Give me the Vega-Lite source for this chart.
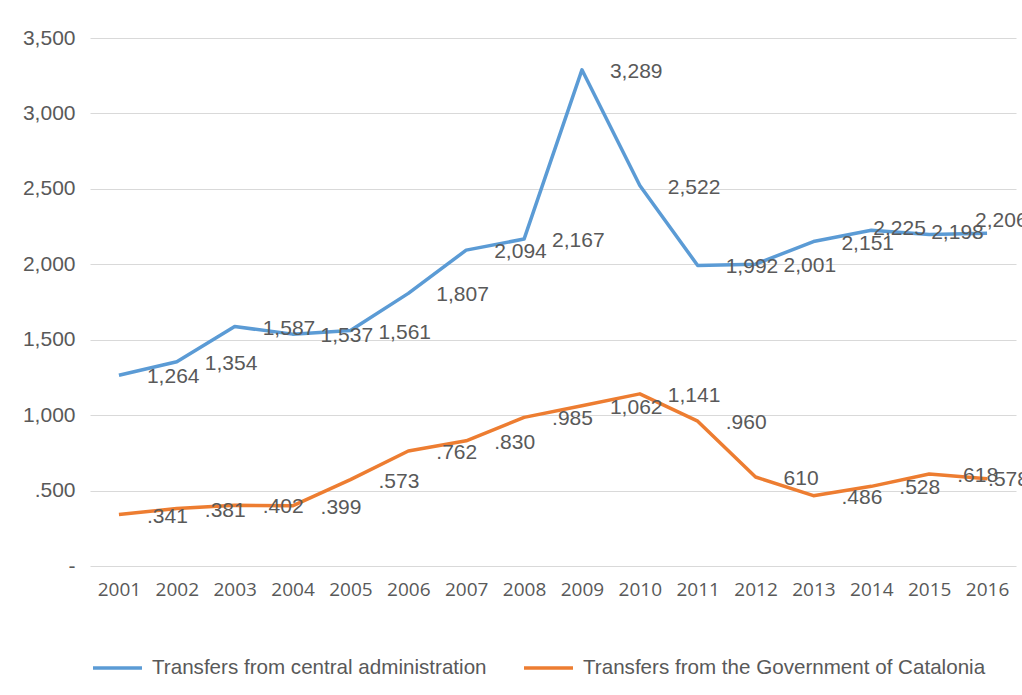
{
  "$schema": "https://vega.github.io/schema/vega-lite/v6.json",
  "width": 926,
  "height": 528,
  "autosize": {"type": "none"},
  "padding": {"left": 90, "top": 38, "right": 6, "bottom": 129},
  "background": "white",
  "config": {"view": {"stroke": null}, "font": "Liberation Sans"},
  "data": {
    "values": [
      {"year": "2001", "series": "Transfers from central administration", "value": 1264, "label": "1,264"},
      {"year": "2002", "series": "Transfers from central administration", "value": 1354, "label": "1,354"},
      {"year": "2003", "series": "Transfers from central administration", "value": 1587, "label": "1,587"},
      {"year": "2004", "series": "Transfers from central administration", "value": 1537, "label": "1,537"},
      {"year": "2005", "series": "Transfers from central administration", "value": 1561, "label": "1,561"},
      {"year": "2006", "series": "Transfers from central administration", "value": 1807, "label": "1,807"},
      {"year": "2007", "series": "Transfers from central administration", "value": 2094, "label": "2,094"},
      {"year": "2008", "series": "Transfers from central administration", "value": 2167, "label": "2,167"},
      {"year": "2009", "series": "Transfers from central administration", "value": 3289, "label": "3,289"},
      {"year": "2010", "series": "Transfers from central administration", "value": 2522, "label": "2,522"},
      {"year": "2011", "series": "Transfers from central administration", "value": 1992, "label": "1,992"},
      {"year": "2012", "series": "Transfers from central administration", "value": 2001, "label": "2,001"},
      {"year": "2013", "series": "Transfers from central administration", "value": 2151, "label": "2,151"},
      {"year": "2014", "series": "Transfers from central administration", "value": 2225, "label": "2,225"},
      {"year": "2015", "series": "Transfers from central administration", "value": 2198, "label": "2,198"},
      {"year": "2016", "series": "Transfers from central administration", "value": 2206, "label": "2,206"},
      {"year": "2001", "series": "Transfers from the Government of Catalonia", "value": 341, "label": ".341"},
      {"year": "2002", "series": "Transfers from the Government of Catalonia", "value": 381, "label": ".381"},
      {"year": "2003", "series": "Transfers from the Government of Catalonia", "value": 402, "label": ".402"},
      {"year": "2004", "series": "Transfers from the Government of Catalonia", "value": 399, "label": ".399"},
      {"year": "2005", "series": "Transfers from the Government of Catalonia", "value": 573, "label": ".573"},
      {"year": "2006", "series": "Transfers from the Government of Catalonia", "value": 762, "label": ".762"},
      {"year": "2007", "series": "Transfers from the Government of Catalonia", "value": 830, "label": ".830"},
      {"year": "2008", "series": "Transfers from the Government of Catalonia", "value": 985, "label": ".985"},
      {"year": "2009", "series": "Transfers from the Government of Catalonia", "value": 1062, "label": "1,062"},
      {"year": "2010", "series": "Transfers from the Government of Catalonia", "value": 1141, "label": "1,141"},
      {"year": "2011", "series": "Transfers from the Government of Catalonia", "value": 960, "label": ".960"},
      {"year": "2012", "series": "Transfers from the Government of Catalonia", "value": 590, "label": "610"},
      {"year": "2013", "series": "Transfers from the Government of Catalonia", "value": 466, "label": ".486"},
      {"year": "2014", "series": "Transfers from the Government of Catalonia", "value": 528, "label": ".528"},
      {"year": "2015", "series": "Transfers from the Government of Catalonia", "value": 610, "label": ".618"},
      {"year": "2016", "series": "Transfers from the Government of Catalonia", "value": 578, "label": ".578"}
    ]
  },
  "encoding": {
    "x": {
      "field": "year",
      "type": "ordinal",
      "axis": {
        "title": null,
        "domain": false,
        "ticks": false,
        "labelAngle": 0,
        "labelFont": "Open Sans",
        "labelFontSize": 19,
        "labelColor": "#595959",
        "labelPadding": 14
      }
    },
    "y": {
      "field": "value",
      "type": "quantitative",
      "scale": {"domain": [0, 3500], "nice": false},
      "axis": {
        "title": null,
        "domain": false,
        "ticks": false,
        "values": [0, 500, 1000, 1500, 2000, 2500, 3000, 3500],
        "labelExpr": "datum.value == 0 ? '-' : (datum.value < 1000 ? '.' + format(datum.value, 'd') : format(datum.value, ','))",
        "labelFontSize": 21,
        "labelColor": "#595959",
        "labelPadding": 15,
        "gridColor": "#d9d9d9",
        "gridWidth": 1
      }
    }
  },
  "layer": [
    {
      "mark": {"type": "line", "strokeWidth": 3.5, "strokeJoin": "round"},
      "encoding": {
        "color": {
          "field": "series",
          "type": "nominal",
          "scale": {
            "domain": ["Transfers from central administration", "Transfers from the Government of Catalonia"],
            "range": ["#5B9BD5", "#ED7D31"]
          },
          "legend": {
            "title": null,
            "orient": "none",
            "legendX": 1,
            "legendY": 603,
            "direction": "horizontal",
            "symbolType": "stroke",
            "symbolSize": 2400,
            "symbolStrokeWidth": 3.5,
            "labelFontSize": 20.6,
            "labelColor": "#595959",
            "labelLimit": 0,
            "labelOffset": 8,
            "columnPadding": 30
          }
        }
      }
    },
    {
      "transform": [{"filter": "!((datum.series == 'Transfers from central administration' && (datum.year == '2014' || datum.year == '2015' || datum.year == '2016')) || datum.year == '2016')"}],
      "mark": {"type": "text", "align": "left", "baseline": "middle", "dx": 28, "dy": 2, "fontSize": 21, "fill": "#595959"},
      "encoding": {"text": {"field": "label"}}
    },
    {
      "transform": [{"filter": "datum.series == 'Transfers from central administration' && (datum.year == '2014' || datum.year == '2015')"}],
      "mark": {"type": "text", "align": "left", "baseline": "middle", "dx": 2, "dy": -1, "fontSize": 21, "fill": "#595959"},
      "encoding": {"text": {"field": "label"}}
    },
    {
      "transform": [{"filter": "datum.series == 'Transfers from central administration' && datum.year == '2016'"}],
      "mark": {"type": "text", "align": "left", "baseline": "middle", "dx": -12, "dy": -12, "fontSize": 21, "fill": "#595959"},
      "encoding": {"text": {"field": "label"}}
    },
    {
      "transform": [{"filter": "datum.series == 'Transfers from the Government of Catalonia' && datum.year == '2016'"}],
      "mark": {"type": "text", "align": "left", "baseline": "middle", "dx": 1, "dy": 1, "fontSize": 21, "fill": "#595959"},
      "encoding": {"text": {"field": "label"}}
    }
  ]
}
